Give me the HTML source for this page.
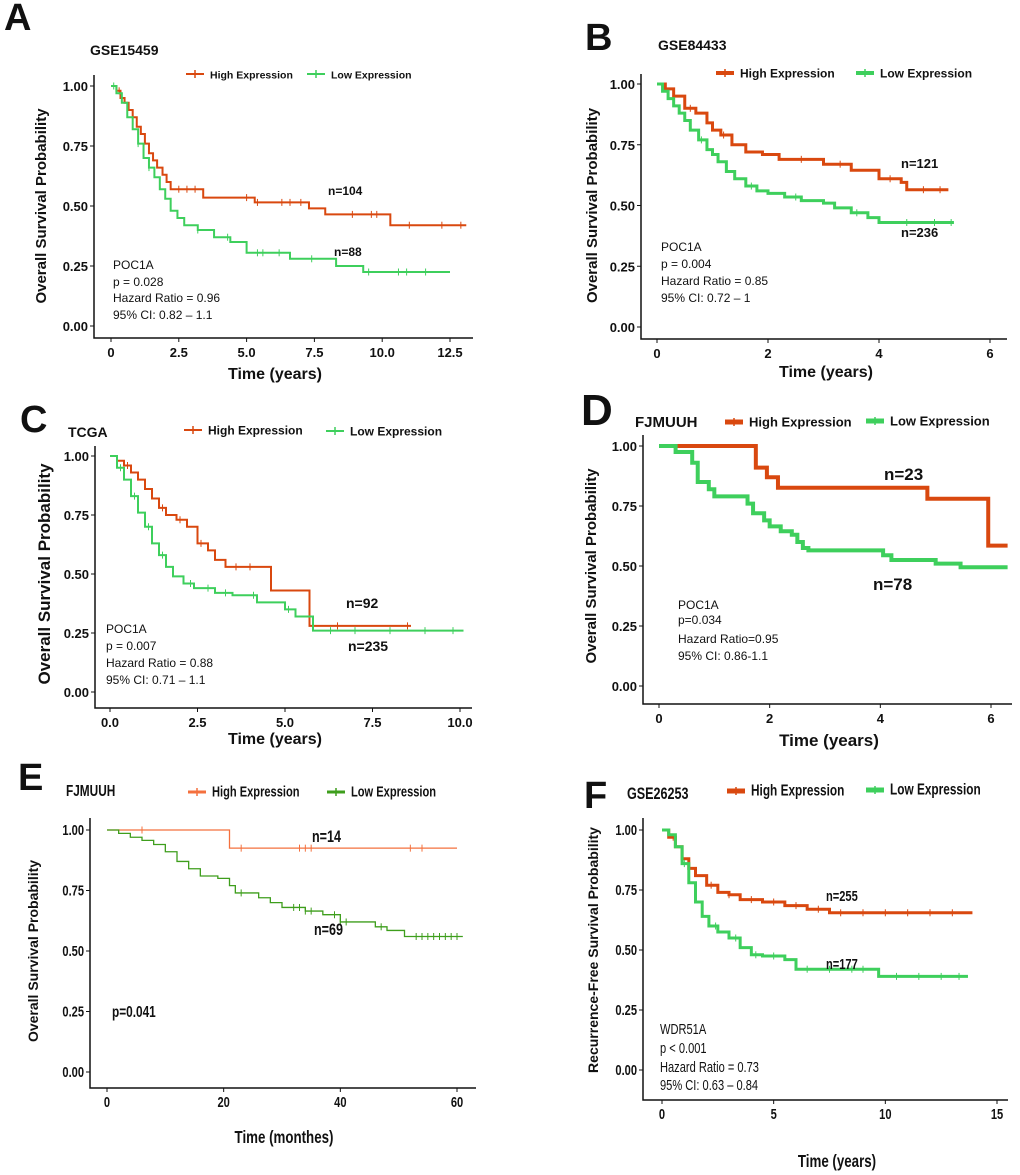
<!DOCTYPE html>
<html><head><meta charset="utf-8">
<style>
html,body{margin:0;padding:0;background:#fff;}
svg{display:block;font-family:"Liberation Sans",sans-serif;}
</style></head>
<body>
<svg id="fig" width="1020" height="1175" viewBox="0 0 1020 1175" xmlns="http://www.w3.org/2000/svg"></svg>
<script>
// ---- Panel A data (GSE15459) ----
const aHighT=[0.2,0.35,0.5,0.65,0.8,0.95,1.1,1.25,1.4,1.55,1.7,1.9,2.05,2.2,3.4,5.3,7.3,7.9,10.3];
const aHighS=[0.98,0.95,0.93,0.9,0.87,0.83,0.8,0.76,0.72,0.69,0.66,0.63,0.6,0.57,0.535,0.515,0.49,0.465,0.42];
const aHighEnd=13.1;
const aHighC=[0.3,2.5,2.8,3.1,5.0,5.4,6.3,6.6,7.0,8.9,9.6,9.8,11.0,12.2,12.9];
const aLowT=[0.2,0.4,0.6,0.8,1.0,1.2,1.4,1.6,1.8,2.0,2.2,2.45,2.7,3.2,3.8,4.4,5.0,6.6,8.3,9.3];
const aLowS=[0.97,0.93,0.87,0.82,0.76,0.7,0.66,0.62,0.57,0.53,0.48,0.45,0.42,0.40,0.37,0.35,0.305,0.28,0.25,0.225];
const aLowEnd=12.5;
const aLowC=[0.1,1.0,1.4,3.2,4.3,5.4,5.6,6.2,7.4,9.5,10.6,10.9,11.6];
// ---- Panel B data (GSE84433) ----
const bHighT=[0.15,0.3,0.5,0.7,0.9,1.0,1.15,1.35,1.6,1.9,2.2,3.0,3.5,4.0,4.4,4.5];
const bHighS=[0.98,0.95,0.9,0.88,0.84,0.81,0.79,0.75,0.72,0.71,0.69,0.67,0.645,0.61,0.595,0.565];
const bHighEnd=5.25;
const bHighC=[0.6,1.2,2.6,3.3,4.2,4.8,5.1];
const bLowT=[0.1,0.2,0.3,0.4,0.5,0.6,0.75,0.9,1.0,1.1,1.25,1.4,1.6,1.8,2.0,2.3,2.6,3.0,3.2,3.5,3.8,4.0];
const bLowS=[0.97,0.94,0.91,0.88,0.85,0.81,0.77,0.73,0.71,0.68,0.64,0.61,0.58,0.56,0.55,0.535,0.52,0.51,0.49,0.47,0.45,0.43];
const bLowEnd=5.35;
const bLowC=[0.8,1.7,2.5,3.6,4.5,5.0,5.3];
// ---- Panel C data (TCGA) ----
const cHighT=[0.2,0.4,0.6,0.8,1.0,1.2,1.4,1.6,1.9,2.2,2.5,2.8,3.0,3.3,4.6,5.7];
const cHighS=[0.98,0.96,0.93,0.9,0.86,0.82,0.78,0.75,0.73,0.7,0.63,0.6,0.56,0.53,0.43,0.28];
const cHighEnd=8.6;
const cHighC=[0.5,1.5,2.0,2.6,3.6,4.0,6.5,8.5];
const cLowT=[0.2,0.4,0.6,0.8,1.0,1.2,1.4,1.6,1.8,2.1,2.4,3.0,3.5,4.2,5.0,5.3,5.8];
const cLowS=[0.95,0.9,0.83,0.76,0.7,0.63,0.58,0.53,0.49,0.46,0.44,0.42,0.41,0.38,0.35,0.32,0.26];
const cLowEnd=10.1;
const cLowC=[0.3,0.7,1.1,1.5,2.3,2.8,3.3,4.1,5.1,6.3,7.0,8.0,9.0,9.8];
// ---- Panel D data (FJMUUH, years) ----
const dHighT=[1.75,1.95,2.15,4.85,5.95];
const dHighS=[0.91,0.87,0.826,0.78,0.585];
const dHighEnd=6.3;
const dLowT=[0.3,0.6,0.7,0.9,1.0,1.6,1.7,1.9,2.0,2.2,2.4,2.5,2.6,2.7,4.05,4.2,5.0,5.45];
const dLowS=[0.975,0.93,0.85,0.82,0.79,0.76,0.72,0.69,0.665,0.645,0.63,0.6,0.575,0.565,0.545,0.525,0.51,0.495];
const dLowEnd=6.3;
// ---- Panel E data (FJMUUH, months) ----
const eHighT=[21];
const eHighS=[0.925];
const eHighEnd=60;
const eHighC=[6,23,33,34,35,52,54];
const eLowT=[2,4,6,8,10,12,14,16,19,21,22,26,28,30,34,37,40,46,48,51];
const eLowS=[0.986,0.97,0.957,0.94,0.91,0.87,0.84,0.81,0.80,0.77,0.74,0.72,0.70,0.68,0.665,0.65,0.62,0.60,0.585,0.56];
const eLowEnd=61;
const eLowC=[23,32,33,34,35,39,40,41,47,53,54,55,56,57,58,59,60];
// ---- Panel F data (GSE26253) ----
const fHighT=[0.3,0.6,0.9,1.2,1.5,2.0,2.5,3.0,3.5,4.5,5.5,6.5,7.5];
const fHighS=[0.97,0.93,0.88,0.84,0.81,0.77,0.74,0.73,0.71,0.70,0.685,0.67,0.655];
const fHighEnd=13.9;
const fHighC=[0.5,0.9,2.2,3.0,4.0,5.0,6.0,7.0,8.0,9.0,10.0,11.0,12.0,13.0];
const fLowT=[0.3,0.6,0.9,1.2,1.5,1.8,2.1,2.5,3.0,3.5,4.0,4.5,5.5,6.0,9.7];
const fLowS=[0.98,0.93,0.86,0.78,0.70,0.64,0.60,0.575,0.55,0.51,0.48,0.475,0.46,0.42,0.39];
const fLowEnd=13.7;
const fLowC=[1.0,2.4,3.3,4.2,5.0,6.5,7.5,8.5,9.0,10.5,11.5,12.5,13.3];
const yTicks=[0,0.25,0.5,0.75,1];
const yTickLabels=["0.00","0.25","0.50","0.75","1.00"];

const NS="http://www.w3.org/2000/svg";
const fig=document.getElementById('fig');
function mk(tag,attrs,parent){const e=document.createElementNS(NS,tag);for(const k in attrs)e.setAttribute(k,attrs[k]);(parent||fig).appendChild(e);return e;}
function txt(s,attrs,parent,nar){
  if(nar){const x=attrs.x,y=attrs.y;delete attrs.x;delete attrs.y;attrs.transform=`translate(${x},${y}) scale(0.74,1)`;}
  const e=mk('text',attrs,parent);e.textContent=s;return e;}
function survAt(T,S,t){let s=1;for(let i=0;i<T.length;i++){if(T[i]<=t)s=S[i];}return s;}

function panel(p){
  const g=mk('g',{});
  
  
  const X=v=>p.x0+(v-p.d0)*(p.x1-p.x0)/(p.d1-p.d0);
  const Y=v=>p.y0+(1-v)*(p.y1-p.y0);
  const nr=!!p.nar;
  const L=txt(p.letter,{x:p.lx,y:p.ly,'font-size':p.lfz||38,'font-weight':'bold',fill:'#111'},g);
  
  const T=txt(p.title,{x:p.tx,y:p.ty,'font-size':p.tfs||14,'font-weight':'bold',fill:'#111'},g,nr);
  
  const ax=mk('path',{d:`M${p.ax} ${p.axTop} V${p.axY} H${p.axRight}`,stroke:'#111','stroke-width':1.5,fill:'none'},g);
  
  yTicks.forEach((v,i)=>{
    mk('line',{x1:p.ax-4,x2:p.ax,y1:Y(v),y2:Y(v),stroke:'#111','stroke-width':1},g);
    const t=txt(yTickLabels[i],{x:p.ax-6,y:Y(v)+5,'font-size':p.fs||13,'font-weight':'bold','text-anchor':'end',fill:'#111'},g,nr);
    
  });
  p.xt.forEach((v,i)=>{
    mk('line',{x1:X(v),x2:X(v),y1:p.axY,y2:p.axY+4,stroke:'#111','stroke-width':1},g);
    const t=txt(p.xtl[i],{x:X(v),y:p.axY+19,'font-size':p.fs||13,'font-weight':'bold','text-anchor':'middle',fill:'#111'},g,nr);
    
  });
  const xt=txt(p.xtitle,{x:p.xtx,y:p.xty,'font-size':p.xfs||16,'font-weight':'bold','text-anchor':'middle',fill:'#111'},g,nr);
  
  const yt=txt(p.ytitle,{x:0,y:0,'font-size':p.yfs||15,'font-weight':'bold','text-anchor':'middle',fill:'#111',transform:`translate(${p.ytx},${(p.y0+p.y1)/2}) rotate(-90)`},g);
  
  p.series.forEach(s=>{
    let d=`M${X(s.start||0)} ${Y(1)}`;
    for(let i=0;i<s.T.length;i++){d+=` H${X(s.T[i])} V${Y(s.S[i])}`;}
    d+=` H${X(s.end)}`;
    const ln=mk('path',{d:d,stroke:s.col,'stroke-width':s.w,fill:'none'},g);
    
    (s.C||[]).forEach(c=>{
      const cx=X(c),cy=Y(survAt(s.T,s.S,c));
      const m=mk('path',{d:`M${cx} ${cy-3.5} V${cy+3.5}`,stroke:s.col,'stroke-width':1},g);
      
    });
  });
  p.leg.forEach(l=>{
    const lg=mk('g',{},g);
    
    mk('line',{x1:l.x,x2:l.x+18,y1:l.y,y2:l.y,stroke:l.col,'stroke-width':l.w},lg);
    mk('line',{x1:l.x+9,x2:l.x+9,y1:l.y-4,y2:l.y+4,stroke:l.col,'stroke-width':1.5},lg);
    txt(l.label,{x:l.x+24,y:l.y+4.5,'font-size':p.lfs||11,'font-weight':'bold',fill:'#111'},lg,nr);
  });
  p.ann.forEach(a=>{
    const t=txt(a.s,{x:a.x,y:a.y,'font-size':a.fs,'font-weight':a.b?'bold':'normal',fill:'#111'},g,nr);
    
  });
}
const OR='#d9480f', GR='#3ecf5c';
panel({name:'panel-a',letter:'A',lx:4,ly:30,title:'GSE15459',tx:90,ty:55,
  ax:94,axTop:75,axY:338,axRight:473,x0:111,x1:450,d0:0,d1:12.5,y0:86,y1:326,
  xt:[0,2.5,5,7.5,10,12.5],xtl:['0','2.5','5.0','7.5','10.0','12.5'],xtitle:'Time (years)',xtx:275,xty:379,ytitle:'Overall Survival Probability',ytx:46,
  series:[{name:'high-expression-curve',T:aHighT,S:aHighS,end:aHighEnd,C:aHighC,col:OR,w:2},{name:'low-expression-curve',T:aLowT,S:aLowS,end:aLowEnd,C:aLowC,col:GR,w:2}],
  leg:[{x:186,y:74,col:OR,w:2,label:'High Expression'},{x:307,y:74,col:GR,w:2,label:'Low Expression'}],lfs:10.5,
  ann:[{s:'n=104',x:328,y:195,fs:12,b:1,n:'n-high'},{s:'n=88',x:334,y:256,fs:12,b:1,n:'n-low'},
       {s:'POC1A',x:113,y:269,fs:12,n:'gene-label'},{s:'p = 0.028',x:113,y:286,fs:12,n:'p-value'},{s:'Hazard Ratio = 0.96',x:113,y:302,fs:12,n:'hazard-ratio'},{s:'95% CI: 0.82 – 1.1',x:113,y:319,fs:12,n:'ci'}]});
panel({name:'panel-b',letter:'B',lx:585,ly:50,title:'GSE84433',tx:658,ty:50,
  ax:641,axTop:74,axY:339,axRight:1007,x0:657,x1:990,d0:0,d1:6,y0:84,y1:327,
  xt:[0,2,4,6],xtl:['0','2','4','6'],xtitle:'Time (years)',xtx:826,xty:377,ytitle:'Overall Survival Probability',ytx:597,
  series:[{name:'high-expression-curve',T:bHighT,S:bHighS,end:bHighEnd,C:bHighC,col:OR,w:3},{name:'low-expression-curve',T:bLowT,S:bLowS,end:bLowEnd,C:bLowC,col:GR,w:3}],
  leg:[{x:716,y:73,col:OR,w:4,label:'High Expression'},{x:856,y:73,col:GR,w:4,label:'Low Expression'}],lfs:12,
  ann:[{s:'n=121',x:901,y:168,fs:13,b:1,n:'n-high'},{s:'n=236',x:901,y:237,fs:13,b:1,n:'n-low'},
       {s:'POC1A',x:661,y:251,fs:12,n:'gene-label'},{s:'p = 0.004',x:661,y:268,fs:12,n:'p-value'},{s:'Hazard Ratio = 0.85',x:661,y:285,fs:12,n:'hazard-ratio'},{s:'95% CI: 0.72 – 1',x:661,y:302,fs:12,n:'ci'}]});
panel({name:'panel-c',letter:'C',lx:20,ly:432,title:'TCGA',tx:68,ty:437,
  ax:95,axTop:446,axY:708,axRight:472,x0:110,x1:460,d0:0,d1:10,y0:456,y1:692,
  xt:[0,2.5,5,7.5,10],xtl:['0.0','2.5','5.0','7.5','10.0'],xtitle:'Time (years)',xtx:275,xty:744,ytitle:'Overall Survival Probability',ytx:50,yfs:17,
  series:[{name:'high-expression-curve',T:cHighT,S:cHighS,end:cHighEnd,C:cHighC,col:OR,w:2},{name:'low-expression-curve',T:cLowT,S:cLowS,end:cLowEnd,C:cLowC,col:GR,w:2}],
  leg:[{x:184,y:430,col:OR,w:2,label:'High Expression'},{x:326,y:431,col:GR,w:2,label:'Low Expression'}],lfs:12,
  ann:[{s:'n=92',x:346,y:608,fs:14,b:1,n:'n-high'},{s:'n=235',x:348,y:651,fs:14,b:1,n:'n-low'},
       {s:'POC1A',x:106,y:633,fs:12,n:'gene-label'},{s:'p = 0.007',x:106,y:650,fs:12,n:'p-value'},{s:'Hazard Ratio = 0.88',x:106,y:667,fs:12,n:'hazard-ratio'},{s:'95% CI: 0.71 – 1.1',x:106,y:684,fs:12,n:'ci'}]});
panel({name:'panel-d',letter:'D',lx:581,ly:425,lfz:44,title:'FJMUUH',tx:635,ty:427,tfs:15,
  ax:643,axTop:435,axY:704,axRight:1012,x0:659,x1:991,d0:0,d1:6,y0:446,y1:686,
  xt:[0,2,4,6],xtl:['0','2','4','6'],xtitle:'Time (years)',xtx:829,xty:746,xfs:17,ytitle:'Overall Survival Probability',ytx:596,
  series:[{name:'high-expression-curve',T:dHighT,S:dHighS,end:dHighEnd,start:0.3,col:OR,w:4},{name:'low-expression-curve',T:dLowT,S:dLowS,end:dLowEnd,col:GR,w:4}],
  leg:[{x:725,y:422,col:OR,w:5,label:'High Expression'},{x:866,y:421,col:GR,w:5,label:'Low Expression'}],lfs:13,
  ann:[{s:'n=23',x:884,y:480,fs:17,b:1,n:'n-high'},{s:'n=78',x:873,y:590,fs:17,b:1,n:'n-low'},
       {s:'POC1A',x:678,y:609,fs:12,n:'gene-label'},{s:'p=0.034',x:678,y:624,fs:12,n:'p-value'},{s:'Hazard Ratio=0.95',x:678,y:643,fs:12,n:'hazard-ratio'},{s:'95% CI: 0.86-1.1',x:678,y:660,fs:12,n:'ci'}]});
panel({name:'panel-e',letter:'E',lx:18,ly:790,title:'FJMUUH',tx:66,ty:796,tfs:16,nar:1,
  ax:90,axTop:818,axY:1088,axRight:476,x0:107,x1:457,d0:0,d1:60,y0:830,y1:1072,fs:15,
  xt:[0,20,40,60],xtl:['0','20','40','60'],xtitle:'Time (monthes)',xtx:284,xty:1143,xfs:18,ytitle:'Overall Survival Probability',ytx:38,yfs:14,
  series:[{name:'high-expression-curve',T:eHighT,S:eHighS,end:eHighEnd,C:eHighC,col:'#f4703e',w:1.3},{name:'low-expression-curve',T:eLowT,S:eLowS,end:eLowEnd,C:eLowC,col:'#3e9e1c',w:1.3}],
  leg:[{x:188,y:792,col:'#f4703e',w:3,label:'High Expression'},{x:327,y:792,col:'#3e9e1c',w:3,label:'Low Expression'}],lfs:15,
  ann:[{s:'n=14',x:312,y:842,fs:17,b:1,n:'n-high'},{s:'n=69',x:314,y:935,fs:17,b:1,n:'n-low'},{s:'p=0.041',x:112,y:1017,fs:16,b:1,n:'p-value'}]});
panel({name:'panel-f',letter:'F',lx:584,ly:808,title:'GSE26253',tx:627,ty:799,tfs:17,nar:1,
  ax:643,axTop:818,axY:1100,axRight:1008,x0:662,x1:997,d0:0,d1:15,y0:830,y1:1070,fs:15,
  xt:[0,5,10,15],xtl:['0','5','10','15'],xtitle:'Time (years)',xtx:837,xty:1167,xfs:18,ytitle:'Recurrence-Free Survival Probability',ytx:598,yfs:14,
  series:[{name:'high-expression-curve',T:fHighT,S:fHighS,end:fHighEnd,C:fHighC,col:OR,w:3},{name:'low-expression-curve',T:fLowT,S:fLowS,end:fLowEnd,C:fLowC,col:GR,w:3}],
  leg:[{x:727,y:791,col:OR,w:5,label:'High Expression'},{x:866,y:790,col:GR,w:5,label:'Low Expression'}],lfs:16,
  ann:[{s:'n=255',x:826,y:901,fs:15,b:1,n:'n-high'},{s:'n=177',x:826,y:969,fs:15,b:1,n:'n-low'},
       {s:'WDR51A',x:660,y:1034,fs:15,n:'gene-label'},{s:'p < 0.001',x:660,y:1053,fs:15,n:'p-value'},{s:'Hazard Ratio = 0.73',x:660,y:1072,fs:15,n:'hazard-ratio'},{s:'95% CI: 0.63 – 0.84',x:660,y:1090,fs:15,n:'ci'}]});
</script>
</body></html>
